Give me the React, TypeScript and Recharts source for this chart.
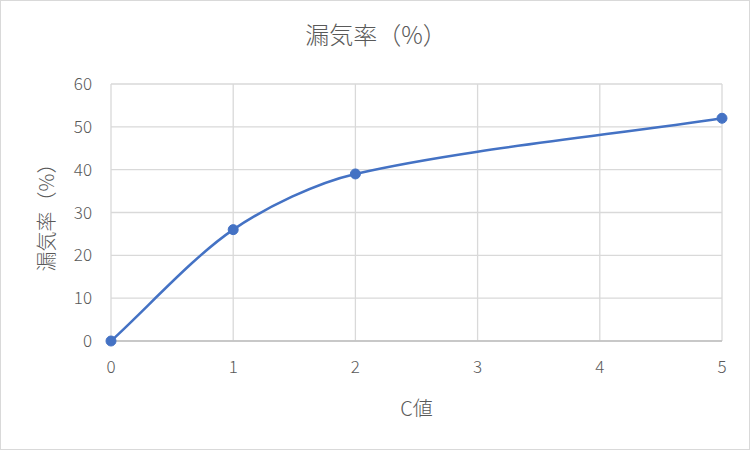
import React from "react";
import { LineChart, Line, XAxis, YAxis, CartesianGrid, Label } from "recharts";

const cValues = [0, 1, 2, 5];
const leakRates = [0, 26, 39, 52];
const xTicks = [0, 1, 2, 3, 4, 5];
const yTicks = [0, 10, 20, 30, 40, 50, 60];
const chartTitle = "漏気率（%）";
const xTitle = "C値";
const yTitle = "漏気率（%）";

const data = cValues.map((x, i) => ({ x, y: leakRates[i] }));

const FONT = "'Noto Sans CJK JP', 'Noto Sans', sans-serif";
const GRAY = "#595959";

// Excel-like smoothing (distance-weighted bezier control points)
const excelCurve = (context: any) => {
  let pts: number[][] = [];
  const dist = (a: number[], b: number[]) => Math.hypot(a[0] - b[0], a[1] - b[1]);
  return {
    areaStart() {},
    areaEnd() {},
    lineStart() {
      pts = [];
    },
    point(x: number, y: number) {
      pts.push([+x, +y]);
    },
    lineEnd() {
      const n = pts.length;
      if (!n) return;
      context.moveTo(pts[0][0], pts[0][1]);
      const f = 0.3;
      for (let i = 0; i < n - 1; i++) {
        const p0 = pts[i - 1] || pts[i];
        const p1 = pts[i];
        const p2 = pts[i + 1];
        const p3 = pts[i + 2] || p2;
        const d01 = dist(p0, p1);
        const d12 = dist(p1, p2);
        const d23 = dist(p2, p3);
        const fa = d01 + d12 > 0 ? (f * d12) / (d01 + d12) : 0;
        const fb = d12 + d23 > 0 ? (f * d12) / (d12 + d23) : 0;
        context.bezierCurveTo(
          p1[0] + fa * (p2[0] - p0[0]),
          p1[1] + fa * (p2[1] - p0[1]),
          p2[0] - fb * (p3[0] - p1[0]),
          p2[1] - fb * (p3[1] - p1[1]),
          p2[0],
          p2[1]
        );
      }
    },
  };
};

const tickStyle = { fill: GRAY, fontSize: 17, fontFamily: FONT, fontWeight: 300 };

export default function App() {
  return (
    <div style={{ position: "absolute", left: 0, top: 0, width: 752, height: 452, background: "#fff" }}>
      <div
        style={{
          position: "absolute",
          left: 0,
          top: 0,
          width: 750,
          height: 450,
          border: "1px solid #d9d9d9",
          boxSizing: "border-box",
        }}
      />
      <div
        style={{
          position: "absolute",
          left: 0,
          top: 18,
          width: 752,
          textAlign: "center",
          fontFamily: FONT,
          fontWeight: 300,
          fontSize: 24,
          lineHeight: "32px",
          color: GRAY,
        }}
      >
        {chartTitle}
      </div>
      <div style={{ position: "absolute", left: 0, top: 0 }}>
        <LineChart
          width={752}
          height={452}
          data={data}
          margin={{ top: 84, right: 30, bottom: 51, left: 51 }}
        >
          <CartesianGrid stroke="#d9d9d9" strokeWidth={1.3} />
          <XAxis
            dataKey="x"
            type="number"
            domain={[0, 5]}
            ticks={xTicks}
            height={60}
            tickLine={false}
            tickSize={0}
            tickMargin={20}
            axisLine={{ stroke: "#bfbfbf", strokeWidth: 1.3 }}
            tick={tickStyle}
            interval={0}
          >
            <Label
              content={(props: any) => {
                const vb = props.viewBox;
                return (
                  <text
                    x={vb.x + vb.width / 2}
                    y={407}
                    textAnchor="middle"
                    dominantBaseline="central"
                    fill={GRAY}
                    fontSize={20}
                    fontWeight={300}
                    fontFamily={FONT}
                  >
                    {xTitle}
                  </text>
                );
              }}
            />
          </XAxis>
          <YAxis
            type="number"
            domain={[0, 60]}
            ticks={yTicks}
            width={60}
            tickLine={false}
            axisLine={false}
            tickSize={0}
            tickMargin={19}
            tick={tickStyle}
            interval={0}
          >
            <Label
              content={(props: any) => {
                const vb = props.viewBox;
                const cy = vb.y + vb.height / 2;
                const cx = 45;
                return (
                  <text
                    x={cx}
                    y={cy}
                    textAnchor="middle"
                    dominantBaseline="central"
                    transform={`rotate(-90 ${cx} ${cy})`}
                    fill={GRAY}
                    fontSize={20}
                    fontWeight={300}
                    fontFamily={FONT}
                  >
                    {yTitle}
                  </text>
                );
              }}
            />
          </YAxis>
          <Line
            dataKey="y"
            type={excelCurve as any}
            stroke="#4472C4"
            strokeWidth={2.5}
            dot={{ r: 5, fill: "#4472C4", stroke: "#4472C4", strokeWidth: 1 }}
            activeDot={false}
            isAnimationActive={false}
          />
        </LineChart>
      </div>
    </div>
  );
}
